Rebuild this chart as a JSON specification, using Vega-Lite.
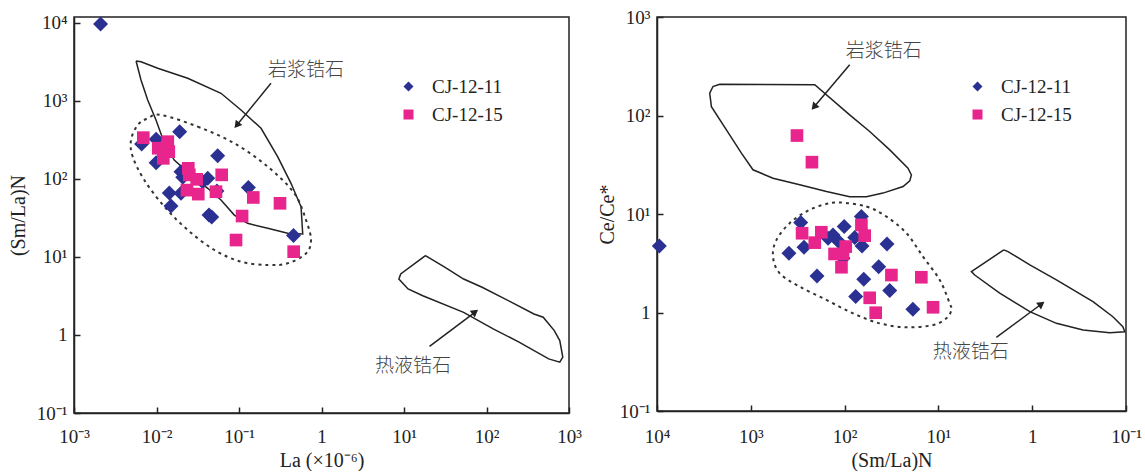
{
  "$schema": "https://vega.github.io/schema/vega-lite/v6.json",
  "background": "white",
  "padding": {"left": 7, "top": 7, "right": 5, "bottom": 0},
  "spacing": 13,
  "config": {
    "font": "Liberation Serif",
    "view": {"stroke": "#222", "strokeWidth": 1.5},
    "axis": {
      "grid": false,
      "labelFont": "Liberation Serif",
      "labelFontSize": 19,
      "labelColor": "#222",
      "titleFont": "Liberation Serif",
      "titleFontSize": 20,
      "titleFontWeight": "normal",
      "titleColor": "#222",
      "domainColor": "#222",
      "domainWidth": 1.5,
      "tickColor": "#222",
      "tickOpacity": 1,
      "tickWidth": 1.5,
      "labelFlush": false,
      "labelOverlap": false
    },
    "legend": {
      "labelFont": "Liberation Serif",
      "labelFontSize": 19,
      "labelColor": "#222",
      "symbolSize": 100,
      "symbolStrokeWidth": 0,
      "rowPadding": 8,
      "labelOffset": 14
    }
  },
  "datasets": {
    "leftPts": [
      {"x": 0.0021, "y": 9700, "sample": "CJ-12-11"},
      {"x": 0.0066, "y": 281, "sample": "CJ-12-11"},
      {"x": 0.0099, "y": 323, "sample": "CJ-12-11"},
      {"x": 0.0191, "y": 404, "sample": "CJ-12-11"},
      {"x": 0.0099, "y": 162, "sample": "CJ-12-11"},
      {"x": 0.0552, "y": 199, "sample": "CJ-12-11"},
      {"x": 0.0198, "y": 124, "sample": "CJ-12-11"},
      {"x": 0.0208, "y": 105, "sample": "CJ-12-11"},
      {"x": 0.0418, "y": 102, "sample": "CJ-12-11"},
      {"x": 0.0363, "y": 92, "sample": "CJ-12-11"},
      {"x": 0.0143, "y": 66, "sample": "CJ-12-11"},
      {"x": 0.0198, "y": 65.6, "sample": "CJ-12-11"},
      {"x": 0.054, "y": 70, "sample": "CJ-12-11"},
      {"x": 0.015, "y": 45, "sample": "CJ-12-11"},
      {"x": 0.0433, "y": 34.5, "sample": "CJ-12-11"},
      {"x": 0.0467, "y": 32.6, "sample": "CJ-12-11"},
      {"x": 0.13, "y": 78, "sample": "CJ-12-11"},
      {"x": 0.458, "y": 18.9, "sample": "CJ-12-11"},
      {"x": 0.00692, "y": 339, "sample": "CJ-12-15"},
      {"x": 0.0137, "y": 301, "sample": "CJ-12-15"},
      {"x": 0.0105, "y": 248, "sample": "CJ-12-15"},
      {"x": 0.0141, "y": 224, "sample": "CJ-12-15"},
      {"x": 0.0121, "y": 184, "sample": "CJ-12-15"},
      {"x": 0.0243, "y": 137, "sample": "CJ-12-15"},
      {"x": 0.025, "y": 113, "sample": "CJ-12-15"},
      {"x": 0.0307, "y": 99, "sample": "CJ-12-15"},
      {"x": 0.0617, "y": 113, "sample": "CJ-12-15"},
      {"x": 0.0234, "y": 72, "sample": "CJ-12-15"},
      {"x": 0.0321, "y": 64, "sample": "CJ-12-15"},
      {"x": 0.0526, "y": 68.7, "sample": "CJ-12-15"},
      {"x": 0.149, "y": 58, "sample": "CJ-12-15"},
      {"x": 0.314, "y": 48.8, "sample": "CJ-12-15"},
      {"x": 0.109, "y": 33.5, "sample": "CJ-12-15"},
      {"x": 0.092, "y": 16.5, "sample": "CJ-12-15"},
      {"x": 0.46, "y": 11.7, "sample": "CJ-12-15"}
    ],
    "rightPts": [
      {"x": 9450, "y": 4.74, "sample": "CJ-12-11"},
      {"x": 294, "y": 8.18, "sample": "CJ-12-11"},
      {"x": 392, "y": 4.0, "sample": "CJ-12-11"},
      {"x": 271, "y": 4.6, "sample": "CJ-12-11"},
      {"x": 197, "y": 2.35, "sample": "CJ-12-11"},
      {"x": 133, "y": 6.13, "sample": "CJ-12-11"},
      {"x": 150, "y": 5.68, "sample": "CJ-12-11"},
      {"x": 101, "y": 7.45, "sample": "CJ-12-11"},
      {"x": 115, "y": 5.24, "sample": "CJ-12-11"},
      {"x": 78, "y": 5.76, "sample": "CJ-12-11"},
      {"x": 66.2, "y": 9.41, "sample": "CJ-12-11"},
      {"x": 65.2, "y": 4.74, "sample": "CJ-12-11"},
      {"x": 104, "y": 3.55, "sample": "CJ-12-11"},
      {"x": 35.3, "y": 4.97, "sample": "CJ-12-11"},
      {"x": 43.3, "y": 2.92, "sample": "CJ-12-11"},
      {"x": 62.5, "y": 2.17, "sample": "CJ-12-11"},
      {"x": 33, "y": 1.67, "sample": "CJ-12-11"},
      {"x": 76.2, "y": 1.45, "sample": "CJ-12-11"},
      {"x": 18.7, "y": 1.08, "sample": "CJ-12-11"},
      {"x": 322, "y": 62.6, "sample": "CJ-12-15"},
      {"x": 223, "y": 33.6, "sample": "CJ-12-15"},
      {"x": 284, "y": 6.38, "sample": "CJ-12-15"},
      {"x": 177, "y": 6.53, "sample": "CJ-12-15"},
      {"x": 208, "y": 5.12, "sample": "CJ-12-15"},
      {"x": 97.3, "y": 4.67, "sample": "CJ-12-15"},
      {"x": 128, "y": 3.93, "sample": "CJ-12-15"},
      {"x": 104, "y": 3.93, "sample": "CJ-12-15"},
      {"x": 108, "y": 2.88, "sample": "CJ-12-15"},
      {"x": 66.2, "y": 7.75, "sample": "CJ-12-15"},
      {"x": 61.1, "y": 6.03, "sample": "CJ-12-15"},
      {"x": 31.7, "y": 2.4, "sample": "CJ-12-15"},
      {"x": 15.2, "y": 2.28, "sample": "CJ-12-15"},
      {"x": 54, "y": 1.41, "sample": "CJ-12-15"},
      {"x": 46.6, "y": 0.995, "sample": "CJ-12-15"},
      {"x": 11.4, "y": 1.13, "sample": "CJ-12-15"}
    ],
    "leftOutlines": [
      {"region": "mag", "i": 0, "x": 0.00565, "y": 3260},
      {"region": "mag", "i": 1, "x": 0.00649, "y": 3190},
      {"region": "mag", "i": 2, "x": 0.01035, "y": 2626},
      {"region": "mag", "i": 3, "x": 0.0239, "y": 1954},
      {"region": "mag", "i": 4, "x": 0.0605, "y": 1256},
      {"region": "mag", "i": 5, "x": 0.1057, "y": 767},
      {"region": "mag", "i": 6, "x": 0.185, "y": 447},
      {"region": "mag", "i": 7, "x": 0.294, "y": 193},
      {"region": "mag", "i": 8, "x": 0.427, "y": 88},
      {"region": "mag", "i": 9, "x": 0.565, "y": 44},
      {"region": "mag", "i": 10, "x": 0.592, "y": 19.7},
      {"region": "mag", "i": 11, "x": 0.389, "y": 20.1},
      {"region": "mag", "i": 12, "x": 0.223, "y": 23.3},
      {"region": "mag", "i": 13, "x": 0.127, "y": 27},
      {"region": "mag", "i": 14, "x": 0.0877, "y": 34.5},
      {"region": "mag", "i": 15, "x": 0.0605, "y": 53.8},
      {"region": "mag", "i": 16, "x": 0.0418, "y": 76},
      {"region": "mag", "i": 17, "x": 0.0262, "y": 112},
      {"region": "mag", "i": 18, "x": 0.0164, "y": 175},
      {"region": "mag", "i": 19, "x": 0.01245, "y": 287},
      {"region": "mag", "i": 20, "x": 0.00986, "y": 571},
      {"region": "mag", "i": 21, "x": 0.00782, "y": 1030},
      {"region": "mag", "i": 22, "x": 0.00649, "y": 1860},
      {"region": "mag", "i": 23, "x": 0.00565, "y": 3260},
      {"region": "hyd", "i": 0, "x": 18.2, "y": 10.4},
      {"region": "hyd", "i": 1, "x": 9.12, "y": 6.05},
      {"region": "hyd", "i": 2, "x": 8.67, "y": 5.22},
      {"region": "hyd", "i": 3, "x": 11.2, "y": 3.89},
      {"region": "hyd", "i": 4, "x": 16.9, "y": 3.19},
      {"region": "hyd", "i": 5, "x": 52.8, "y": 1.95},
      {"region": "hyd", "i": 6, "x": 120.6, "y": 1.2},
      {"region": "hyd", "i": 7, "x": 248, "y": 0.81},
      {"region": "hyd", "i": 8, "x": 567, "y": 0.494},
      {"region": "hyd", "i": 9, "x": 773, "y": 0.448},
      {"region": "hyd", "i": 10, "x": 841, "y": 0.519},
      {"region": "hyd", "i": 11, "x": 773, "y": 0.847},
      {"region": "hyd", "i": 12, "x": 663, "y": 1.14},
      {"region": "hyd", "i": 13, "x": 487, "y": 1.69},
      {"region": "hyd", "i": 14, "x": 376, "y": 1.86},
      {"region": "hyd", "i": 15, "x": 202, "y": 2.62},
      {"region": "hyd", "i": 16, "x": 88.5, "y": 4.09},
      {"region": "hyd", "i": 17, "x": 52.8, "y": 5.22},
      {"region": "hyd", "i": 18, "x": 31.5, "y": 7.36},
      {"region": "hyd", "i": 19, "x": 18.2, "y": 10.4}
    ],
    "leftArrows": [
      {"x": 0.244, "y": 1687, "x2": 0.094, "y2": 490},
      {"x": 20.4, "y": 0.713, "x2": 72.9, "y2": 1.97}
    ],
    "leftEllipse": [
      {"i": 0, "x": 0.01135, "y": 662},
      {"i": 1, "x": 0.0316, "y": 469},
      {"i": 2, "x": 0.0877, "y": 287},
      {"i": 3, "x": 0.223, "y": 144},
      {"i": 4, "x": 0.468, "y": 65.6},
      {"i": 5, "x": 0.649, "y": 29.8},
      {"i": 6, "x": 0.746, "y": 16.5},
      {"i": 7, "x": 0.649, "y": 11.1},
      {"i": 8, "x": 0.389, "y": 8.3},
      {"i": 9, "x": 0.223, "y": 7.9},
      {"i": 10, "x": 0.1057, "y": 8.7},
      {"i": 11, "x": 0.0503, "y": 12.3},
      {"i": 12, "x": 0.0239, "y": 22.2},
      {"i": 13, "x": 0.01245, "y": 44.2},
      {"i": 14, "x": 0.00711, "y": 97},
      {"i": 15, "x": 0.00515, "y": 193},
      {"i": 16, "x": 0.00491, "y": 316},
      {"i": 17, "x": 0.00592, "y": 492},
      {"i": 18, "x": 0.00782, "y": 600}
    ],
    "rightOutlines": [
      {"region": "mag", "i": 0, "x": 2148, "y": 208},
      {"region": "mag", "i": 1, "x": 208, "y": 205},
      {"region": "mag", "i": 2, "x": 88.3, "y": 101.6},
      {"region": "mag", "i": 3, "x": 54, "y": 68.8},
      {"region": "mag", "i": 4, "x": 33, "y": 44.8},
      {"region": "mag", "i": 5, "x": 21.1, "y": 29.2},
      {"region": "mag", "i": 6, "x": 19.4, "y": 24.9},
      {"region": "mag", "i": 7, "x": 20.2, "y": 21.7},
      {"region": "mag", "i": 8, "x": 23.8, "y": 19.0},
      {"region": "mag", "i": 9, "x": 39, "y": 16.3},
      {"region": "mag", "i": 10, "x": 58.6, "y": 15.0},
      {"region": "mag", "i": 11, "x": 88.3, "y": 15.0},
      {"region": "mag", "i": 12, "x": 156, "y": 16.9},
      {"region": "mag", "i": 13, "x": 301, "y": 19.8},
      {"region": "mag", "i": 14, "x": 580, "y": 23.1},
      {"region": "mag", "i": 15, "x": 948, "y": 28.1},
      {"region": "mag", "i": 16, "x": 1259, "y": 41.5},
      {"region": "mag", "i": 17, "x": 1820, "y": 71.6},
      {"region": "mag", "i": 18, "x": 2630, "y": 123},
      {"region": "mag", "i": 19, "x": 2742, "y": 169},
      {"region": "mag", "i": 20, "x": 2530, "y": 197},
      {"region": "mag", "i": 21, "x": 2148, "y": 208},
      {"region": "hyd", "i": 0, "x": 2.01, "y": 4.32},
      {"region": "hyd", "i": 1, "x": 4.45, "y": 2.6},
      {"region": "hyd", "i": 2, "x": 4.1, "y": 2.4},
      {"region": "hyd", "i": 3, "x": 2.22, "y": 1.57},
      {"region": "hyd", "i": 4, "x": 1.06, "y": 1.02},
      {"region": "hyd", "i": 5, "x": 0.552, "y": 0.776},
      {"region": "hyd", "i": 6, "x": 0.287, "y": 0.664},
      {"region": "hyd", "i": 7, "x": 0.149, "y": 0.624},
      {"region": "hyd", "i": 8, "x": 0.103, "y": 0.638},
      {"region": "hyd", "i": 9, "x": 0.108, "y": 0.718},
      {"region": "hyd", "i": 10, "x": 0.138, "y": 0.906},
      {"region": "hyd", "i": 11, "x": 0.225, "y": 1.29},
      {"region": "hyd", "i": 12, "x": 0.552, "y": 2.14},
      {"region": "hyd", "i": 13, "x": 1.06, "y": 3.04},
      {"region": "hyd", "i": 14, "x": 1.81, "y": 4.15},
      {"region": "hyd", "i": 15, "x": 2.01, "y": 4.32}
    ],
    "rightArrows": [
      {"x": 88.3, "y": 327, "x2": 212, "y2": 122},
      {"x": 2.41, "y": 0.56, "x2": 0.796, "y2": 1.22}
    ],
    "rightEllipse": [
      {"i": 0, "x": 113, "y": 13.1},
      {"i": 1, "x": 58.6, "y": 11.9},
      {"i": 2, "x": 35.8, "y": 9.41},
      {"i": 3, "x": 21.9, "y": 6.38},
      {"i": 4, "x": 14.6, "y": 3.69},
      {"i": 5, "x": 9.68, "y": 2.14},
      {"i": 6, "x": 7.58, "y": 1.24},
      {"i": 7, "x": 7.27, "y": 1.06},
      {"i": 8, "x": 8.22, "y": 0.873},
      {"i": 9, "x": 11.4, "y": 0.746},
      {"i": 10, "x": 21.9, "y": 0.708},
      {"i": 11, "x": 42.3, "y": 0.776},
      {"i": 12, "x": 81.3, "y": 0.98},
      {"i": 13, "x": 156, "y": 1.34},
      {"i": 14, "x": 301, "y": 1.83},
      {"i": 15, "x": 492, "y": 2.5},
      {"i": 16, "x": 580, "y": 3.69},
      {"i": 17, "x": 533, "y": 5.46},
      {"i": 18, "x": 385, "y": 8.07},
      {"i": 19, "x": 255, "y": 10.6},
      {"i": 20, "x": 170, "y": 12.4}
    ],
    "leftText": [
      {"x": 0.649, "y": 2496, "label": "岩浆锆石"},
      {"x": 12.9, "y": 0.406, "label": "热液锆石"}
    ],
    "rightText": [
      {"x": 38.3, "y": 455, "label": "岩浆锆石"},
      {"x": 4.53, "y": 0.4, "label": "热液锆石"}
    ],
    "lxMinor": [
      {"x": 0.002}, {"x": 0.003}, {"x": 0.004}, {"x": 0.005}, {"x": 0.006}, {"x": 0.007}, {"x": 0.008}, {"x": 0.009},
      {"x": 0.02}, {"x": 0.03}, {"x": 0.04}, {"x": 0.05}, {"x": 0.06}, {"x": 0.07}, {"x": 0.08}, {"x": 0.09},
      {"x": 0.2}, {"x": 0.3}, {"x": 0.4}, {"x": 0.5}, {"x": 0.6}, {"x": 0.7}, {"x": 0.8}, {"x": 0.9},
      {"x": 2}, {"x": 3}, {"x": 4}, {"x": 5}, {"x": 6}, {"x": 7}, {"x": 8}, {"x": 9},
      {"x": 20}, {"x": 30}, {"x": 40}, {"x": 50}, {"x": 60}, {"x": 70}, {"x": 80}, {"x": 90},
      {"x": 200}, {"x": 300}, {"x": 400}, {"x": 500}, {"x": 600}, {"x": 700}, {"x": 800}, {"x": 900}
    ],
    "lxMajor": [{"x": 0.01}, {"x": 0.1}, {"x": 1}, {"x": 10}, {"x": 100}],
    "lyMinor": [
      {"y": 0.2}, {"y": 0.3}, {"y": 0.4}, {"y": 0.5}, {"y": 0.6}, {"y": 0.7}, {"y": 0.8}, {"y": 0.9},
      {"y": 2}, {"y": 3}, {"y": 4}, {"y": 5}, {"y": 6}, {"y": 7}, {"y": 8}, {"y": 9},
      {"y": 20}, {"y": 30}, {"y": 40}, {"y": 50}, {"y": 60}, {"y": 70}, {"y": 80}, {"y": 90},
      {"y": 200}, {"y": 300}, {"y": 400}, {"y": 500}, {"y": 600}, {"y": 700}, {"y": 800}, {"y": 900},
      {"y": 2000}, {"y": 3000}, {"y": 4000}, {"y": 5000}, {"y": 6000}, {"y": 7000}, {"y": 8000}, {"y": 9000}
    ],
    "lyMajor": [{"y": 1}, {"y": 10}, {"y": 100}, {"y": 1000}, {"y": 10000}],
    "rxMinor": [
      {"x": 0.2}, {"x": 0.3}, {"x": 0.4}, {"x": 0.5}, {"x": 0.6}, {"x": 0.7}, {"x": 0.8}, {"x": 0.9},
      {"x": 2}, {"x": 3}, {"x": 4}, {"x": 5}, {"x": 6}, {"x": 7}, {"x": 8}, {"x": 9},
      {"x": 20}, {"x": 30}, {"x": 40}, {"x": 50}, {"x": 60}, {"x": 70}, {"x": 80}, {"x": 90},
      {"x": 200}, {"x": 300}, {"x": 400}, {"x": 500}, {"x": 600}, {"x": 700}, {"x": 800}, {"x": 900},
      {"x": 2000}, {"x": 3000}, {"x": 4000}, {"x": 5000}, {"x": 6000}, {"x": 7000}, {"x": 8000}, {"x": 9000}
    ],
    "rxMajor": [{"x": 1}, {"x": 10}, {"x": 100}, {"x": 1000}],
    "ryMinor": [
      {"y": 0.2}, {"y": 0.3}, {"y": 0.4}, {"y": 0.5}, {"y": 0.6}, {"y": 0.7}, {"y": 0.8}, {"y": 0.9},
      {"y": 2}, {"y": 3}, {"y": 4}, {"y": 5}, {"y": 6}, {"y": 7}, {"y": 8}, {"y": 9},
      {"y": 20}, {"y": 30}, {"y": 40}, {"y": 50}, {"y": 60}, {"y": 70}, {"y": 80}, {"y": 90},
      {"y": 200}, {"y": 300}, {"y": 400}, {"y": 500}, {"y": 600}, {"y": 700}, {"y": 800}, {"y": 900}
    ],
    "ryMajor": [{"y": 1}, {"y": 10}, {"y": 100}, {"y": 1000}]
  },
  "resolve": {"scale": {"color": "independent", "shape": "independent"}, "legend": {"color": "independent", "shape": "independent"}},
  "hconcat": [
    {
      "width": 495,
      "height": 396,
      "encoding": {
        "x": {
          "field": "x", "type": "quantitative",
          "scale": {"type": "log", "domain": [0.001, 1000], "nice": false},
          "axis": {
            "title": "La (×10⁻⁶)",
            "values": [0.001,0.01,0.1,1,10,100,1000],
            "labelExpr": "['10⁻³','10⁻²','10⁻¹','1','10¹','10²','10³','10⁴'][round(log(datum.value)/LN10)+3]",
            "tickSize": -6,
            "labelPadding": 20,
            "titlePadding": 4
          }
        },
        "y": {
          "field": "y", "type": "quantitative",
          "scale": {"type": "log", "domain": [0.1, 11937], "nice": false},
          "axis": {
            "title": "(Sm/La)N",
            "values": [0.1,1,10,100,1000,10000],
            "labelExpr": "['10⁻³','10⁻²','10⁻¹','1','10¹','10²','10³','10⁴'][round(log(datum.value)/LN10)+3]",
            "tickSize": -6,
            "labelPadding": 13,
            "titlePadding": 8
          }
        }
      },
      "layer": [
        {
          "data": {"name": "lxMinor"},
          "mark": {"type": "tick", "orient": "vertical", "color": "#222", "opacity": 1, "size": 5, "thickness": 1.3, "yOffset": -2.5},
          "encoding": {"y": {"datum": 0.1}}
        },
        {
          "data": {"name": "lxMajor"},
          "mark": {"type": "tick", "orient": "vertical", "color": "#222", "opacity": 1, "size": 8, "thickness": 1.3, "yOffset": -4},
          "encoding": {"y": {"datum": 0.1}}
        },
        {
          "data": {"name": "lyMinor"},
          "mark": {"type": "tick", "orient": "horizontal", "color": "#222", "opacity": 1, "size": 5, "thickness": 1.3, "xOffset": 2.5},
          "encoding": {"x": {"datum": 0.001}}
        },
        {
          "data": {"name": "lyMajor"},
          "mark": {"type": "tick", "orient": "horizontal", "color": "#222", "opacity": 1, "size": 8, "thickness": 1.3, "xOffset": 4},
          "encoding": {"x": {"datum": 0.001}}
        },
        {
          "data": {"name": "leftOutlines"},
          "mark": {"type": "line", "stroke": "#222", "strokeWidth": 1.5},
          "encoding": {"detail": {"field": "region"}, "order": {"field": "i", "type": "quantitative"}}
        },
        {
          "data": {"name": "leftEllipse"},
          "mark": {"type": "line", "stroke": "#333", "strokeWidth": 2, "strokeDash": [3, 4], "interpolate": "cardinal-closed"},
          "encoding": {"order": {"field": "i", "type": "quantitative"}}
        },
        {
          "data": {"name": "leftArrows"},
          "mark": {"type": "rule", "stroke": "#222", "strokeWidth": 1.5},
          "encoding": {"x2": {"field": "x2"}, "y2": {"field": "y2"}}
        },
        {
          "data": {"values": [{"x": 0.094, "y": 490}]},
          "mark": {"type": "point", "shape": "triangle-up", "filled": true, "color": "#222", "opacity": 1, "size": 70, "angle": 219},
          "encoding": {}
        },
        {
          "data": {"values": [{"x": 72.9, "y": 1.97}]},
          "mark": {"type": "point", "shape": "triangle-up", "filled": true, "color": "#222", "opacity": 1, "size": 70, "angle": 53},
          "encoding": {}
        },
        {
          "data": {"name": "leftText"},
          "mark": {"type": "text", "font": "Noto Sans CJK SC", "fontSize": 19, "fontWeight": 300, "color": "#444"},
          "encoding": {"text": {"field": "label"}}
        },
        {
          "data": {"name": "leftPts"},
          "mark": {"type": "point", "filled": true, "opacity": 1},
          "encoding": {
            "color": {
              "field": "sample", "type": "nominal",
              "scale": {"domain": ["CJ-12-11", "CJ-12-15"], "range": ["#2B3192", "#E8258C"]},
              "legend": {"orient": "none", "legendX": 325, "legendY": 60, "title": null}
            },
            "shape": {
              "field": "sample", "type": "nominal",
              "scale": {"domain": ["CJ-12-11", "CJ-12-15"], "range": ["diamond", "square"]},
              "legend": {"orient": "none", "legendX": 325, "legendY": 60, "title": null}
            },
            "size": {
              "field": "sample", "type": "nominal",
              "scale": {"domain": ["CJ-12-11", "CJ-12-15"], "range": [225, 160]},
              "legend": null
            }
          }
        }
      ]
    },
    {
      "width": 469,
      "height": 394,
      "encoding": {
        "x": {
          "field": "x", "type": "quantitative",
          "scale": {"type": "log", "domain": [0.1, 10000], "nice": false, "reverse": true},
          "axis": {
            "title": "(Sm/La)N",
            "values": [0.1,1,10,100,1000,10000],
            "labelExpr": "['10⁻³','10⁻²','10⁻¹','1','10¹','10²','10³','10⁴'][round(log(datum.value)/LN10)+3]",
            "tickSize": -6,
            "labelPadding": 22,
            "titlePadding": 4
          }
        },
        "y": {
          "field": "y", "type": "quantitative",
          "scale": {"type": "log", "domain": [0.1, 1000], "nice": false},
          "axis": {
            "title": "Ce/Ce*",
            "values": [0.1,1,10,100,1000],
            "labelExpr": "['10⁻³','10⁻²','10⁻¹','1','10¹','10²','10³','10⁴'][round(log(datum.value)/LN10)+3]",
            "tickSize": -6,
            "labelPadding": 13,
            "titlePadding": 2
          }
        }
      },
      "layer": [
        {
          "data": {"name": "rxMinor"},
          "mark": {"type": "tick", "orient": "vertical", "color": "#222", "opacity": 1, "size": 5, "thickness": 1.3, "yOffset": -2.5},
          "encoding": {"y": {"datum": 0.1}}
        },
        {
          "data": {"name": "rxMajor"},
          "mark": {"type": "tick", "orient": "vertical", "color": "#222", "opacity": 1, "size": 8, "thickness": 1.3, "yOffset": -4},
          "encoding": {"y": {"datum": 0.1}}
        },
        {
          "data": {"name": "ryMinor"},
          "mark": {"type": "tick", "orient": "horizontal", "color": "#222", "opacity": 1, "size": 5, "thickness": 1.3, "xOffset": 2.5},
          "encoding": {"x": {"datum": 10000}}
        },
        {
          "data": {"name": "ryMajor"},
          "mark": {"type": "tick", "orient": "horizontal", "color": "#222", "opacity": 1, "size": 8, "thickness": 1.3, "xOffset": 4},
          "encoding": {"x": {"datum": 10000}}
        },
        {
          "data": {"name": "rightOutlines"},
          "mark": {"type": "line", "stroke": "#222", "strokeWidth": 1.5},
          "encoding": {"detail": {"field": "region"}, "order": {"field": "i", "type": "quantitative"}}
        },
        {
          "data": {"name": "rightEllipse"},
          "mark": {"type": "line", "stroke": "#333", "strokeWidth": 2, "strokeDash": [3, 4], "interpolate": "cardinal-closed"},
          "encoding": {"order": {"field": "i", "type": "quantitative"}}
        },
        {
          "data": {"name": "rightArrows"},
          "mark": {"type": "rule", "stroke": "#222", "strokeWidth": 1.5},
          "encoding": {"x2": {"field": "x2"}, "y2": {"field": "y2"}}
        },
        {
          "data": {"values": [{"x": 212, "y": 122}]},
          "mark": {"type": "point", "shape": "triangle-up", "filled": true, "color": "#222", "opacity": 1, "size": 70, "angle": 220},
          "encoding": {}
        },
        {
          "data": {"values": [{"x": 0.796, "y": 1.22}]},
          "mark": {"type": "point", "shape": "triangle-up", "filled": true, "color": "#222", "opacity": 1, "size": 70, "angle": 54},
          "encoding": {}
        },
        {
          "data": {"name": "rightText"},
          "mark": {"type": "text", "font": "Noto Sans CJK SC", "fontSize": 19, "fontWeight": 300, "color": "#444"},
          "encoding": {"text": {"field": "label"}}
        },
        {
          "data": {"name": "rightPts"},
          "mark": {"type": "point", "filled": true, "opacity": 1},
          "encoding": {
            "color": {
              "field": "sample", "type": "nominal",
              "scale": {"domain": ["CJ-12-11", "CJ-12-15"], "range": ["#2B3192", "#E8258C"]},
              "legend": {"orient": "none", "legendX": 311, "legendY": 60, "title": null}
            },
            "shape": {
              "field": "sample", "type": "nominal",
              "scale": {"domain": ["CJ-12-11", "CJ-12-15"], "range": ["diamond", "square"]},
              "legend": {"orient": "none", "legendX": 311, "legendY": 60, "title": null}
            },
            "size": {
              "field": "sample", "type": "nominal",
              "scale": {"domain": ["CJ-12-11", "CJ-12-15"], "range": [225, 160]},
              "legend": null
            }
          }
        }
      ]
    }
  ]
}
